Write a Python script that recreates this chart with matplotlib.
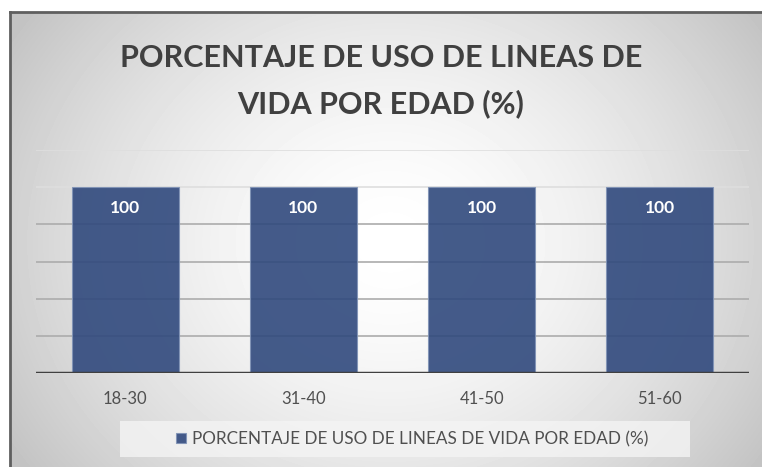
import numpy as np
import matplotlib
matplotlib.use("Agg")
import matplotlib.pyplot as plt
from matplotlib.patches import Rectangle
from matplotlib.lines import Line2D

# datos
categorias = ["18-30", "31-40", "41-50", "51-60"]
porcentajes = [100, 100, 100, 100]
serie = "PORCENTAJE DE USO DE LINEAS DE VIDA POR EDAD (%)"
titulo = "PORCENTAJE DE USO DE LINEAS DE\nVIDA POR EDAD (%)"

W, H = 762, 467
fig = plt.figure(figsize=(W / 100, H / 100), dpi=100)
fig.patch.set_facecolor("white")

# fondo con degradado radial (estilo Excel)
bg = fig.add_axes([10 / W, 0, (W - 10) / W, (H - 12) / H])
bg.set_axis_off()
yy, xx = np.mgrid[0:455, 0:752]
r = np.hypot(xx - 380, (yy - 230) * 1.15)
v = 1 - 0.22 * np.clip(r / 430, 0, 1.05) ** 1.6
bg.imshow(v, cmap="gray", vmin=0, vmax=1, aspect="auto", interpolation="bilinear")

# marco
fig.add_artist(Line2D([10 / W, 10 / W], [0, (H - 12) / H], color="#5f5f5f", lw=2))
fig.add_artist(Line2D([10 / W, 1], [(H - 12) / H, (H - 12) / H], color="#5f5f5f", lw=2))

ax = fig.add_axes([36 / W, (H - 373) / H, 713 / W, 223 / H])
ax.patch.set_alpha(0)

x = np.arange(len(categorias))
ax.set_ylim(0, 120)
ax.set_xlim(-0.5, len(categorias) - 0.5)
for gy in [20, 40, 60, 80]:
    ax.axhline(gy, color="#acacac", lw=1.2, zorder=1)
for gy in [100, 120]:
    ax.axhline(gy, color="#dedede", lw=1.2, zorder=1)

barras = ax.bar(x, porcentajes, width=0.6, color="#30497D", alpha=0.9,
                edgecolor="#8093b6", linewidth=0.8, zorder=2, label=serie)

for xi, val in zip(x, porcentajes):
    ax.annotate(f"{val}", (xi, val), xytext=(0, -15), textcoords="offset points",
                ha="center", va="center", color="white", fontsize=12.5,
                fontweight="bold", family="Lato")

ax.axhline(0, color="#404040", lw=2.5, zorder=3)
for s in ax.spines.values():
    s.set_visible(False)
ax.set_yticks([])
ax.set_xticks(x)
ax.set_xticklabels(categorias, fontsize=12, color="#505050", family="Lato")
ax.tick_params(axis="x", length=0, pad=13)

fig.text(381 / W, 1 - 81 / H, titulo, ha="center", va="center", fontsize=22,
         fontweight="bold", color="#404040", family="Lato", linespacing=1.72)

# leyenda
fig.add_artist(Rectangle((120 / W, 1 - 457 / H), 570 / W, 36 / H,
                         transform=fig.transFigure, facecolor="#f4f4f4",
                         edgecolor="none", alpha=0.8))
fig.legend(handles=[barras], labels=[serie], loc="center",
           bbox_to_anchor=(412 / W, 1 - 439 / H), frameon=False,
           prop={"family": "Lato", "size": 12.3}, labelcolor="#505050",
           handlelength=0.6, handleheight=0.6, handletextpad=0.3)

fig.savefig("out.png", dpi=100)
